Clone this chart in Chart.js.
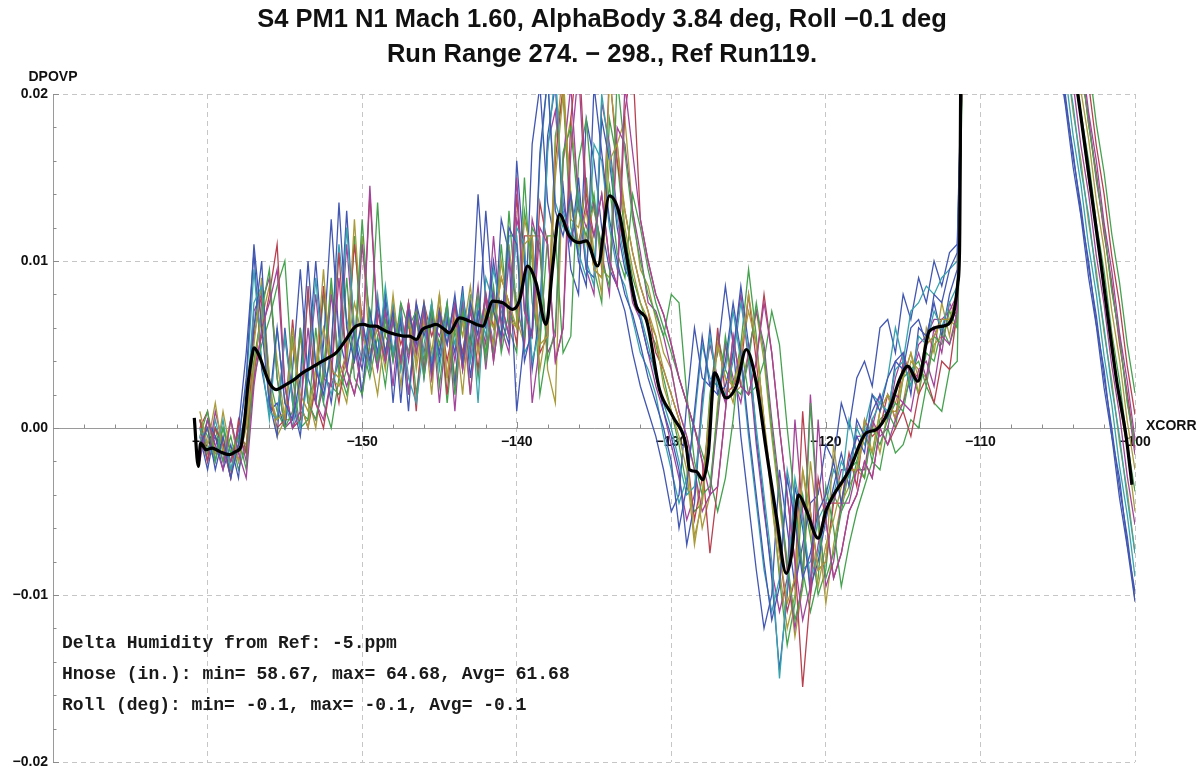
<!DOCTYPE html>
<html>
<head>
<meta charset="utf-8">
<script src="https://cdn.jsdelivr.net/npm/chart.js@4.4.1/dist/chart.umd.min.js"></script>
<style>
  html, body { margin: 0; padding: 0; background: #fff; }
  #wrap { width: 1204px; height: 772px; position: relative; }
</style>
</head>
<body>
<div id="wrap"><canvas id="chart"></canvas></div>
<script>
// DPOVP values are written in units of 1e-4
const xcorr = [-160.5,-160,-159.5,-159,-158.5,-158,-157.5,-157,-156.5,-156,
  -155.5,-155,-154.5,-154,-153.5,-153,-152.5,-152,-151.5,-151,
  -150.5,-150,-149.5,-149,-148.5,-148,-147.5,-147,-146.5,-146,
  -145.5,-145,-144.5,-144,-143.5,-143,-142.5,-142,-141.5,-141,
  -140.5,-140,-139.5,-139,-138.5,-138,-137.5,-137,-136.5,-136,
  -135.5,-135,-134.5,-134,-133.5,-133,-132.5,-132,-131.5,-131,
  -130.5,-130,-129.5,-129,-128.5,-128,-127.5,-127,-126.5,-126,
  -125.5,-125,-124.5,-124,-123.5,-123,-122.5,-122,-121.5,-121,
  -120.5,-120,-119.5,-119,-118.5,-118,-117.5,-117,-116.5,-116,
  -115.5,-115,-114.5,-114,-113.5,-113,-112.5,-112,-111.5,-111,
  -105,-104.5,-104,-103.5,-103,-102.5,-102,-101.5,-101,-100.5,-100];

const run01 = [-10,0,-25,-5,-30,-10,30,110,60,15, 60,15,5,30,100,35,20,45,135,60,
  40,65,40,75,45,70,15,70,50,75, 35,70,50,80,40,75,55,130,70,55,
  120,110,40,60,165,210,130,115,140,100, 85,205,165,125,100,80,68,50,30,15,
  0,-20,-60,-35,10,55,25,20,40,75, 45,0,-40,-80,-115,-95,-30,-55,-90,-75,
  -50,-40,-20,-45,-20,-5,-15,20,10,30, 40,35,60,65,50,80,75,95,105,300,
  230,195,165,128,100,62,35,-5,-30,-70,-98];
const run02 = [-20,5,-10,-25,5,-15,-30,25,60,75, 95,25,0,10,60,15,5,30,90,35,
  20,45,145,60,40,65,40,75,45,70, 30,70,50,75,35,70,50,80,40,75,
  55,150,70,55,120,110,40,60,165,215, 130,115,140,100,85,205,165,125,100,80,
  68,50,30,15,0,-20,-40,-35,10,55, 25,20,40,75,45,0,-40,-80,-115,-95,
  5,-55,-90,-75,-50,-40,-20,-30,0,-10, 5,15,10,35,40,25,55,50,70,300,
  323,290,255,226,189,160,123,94,57,28,-7];
const run03 = [10,-10,15,-15,5,-20,0,35,70,20, 5,10,50,20,10,35,60,35,30,45,
  75,55,45,60,45,70,25,65,40,75, 45,80,30,65,20,75,45,70,60,90,
  75,60,110,115,50,55,150,200,140,110, 130,95,90,160,170,130,105,85,70,55,
  35,20,5,-15,-65,-45,0,50,30,25, 45,80,50,5,-35,-75,-105,-90,-25,-50,
  -85,-80,-10,-45,-25,-25,-5,-15,10,20, 5,30,45,30,50,55,65,65,80,300,
  283,252,215,186,148,120,82,55,15,-12,-50];
const run04 = [-5,10,-20,0,-15,-5,-25,40,70,95, 30,0,10,60,15,5,30,90,35,20,
  45,125,60,40,65,40,75,60,70,30, 70,50,75,20,70,50,80,40,75,55,
  130,70,55,120,110,40,60,165,180,130, 115,140,100,85,210,165,125,100,80,68,
  55,80,75,20,-20,-40,-35,10,55,25, 20,40,75,45,0,-40,-80,-115,-95,15,
  -55,-90,-75,-50,-40,-20,-30,0,-10,5, 15,10,35,40,25,55,50,70,60,300,
  316,285,248,220,182,150,120,82,55,15,-10];
const run05 = [0,-10,-20,5,-25,-10,10,75,85,10, 5,55,15,0,30,90,35,20,45,120,
  60,40,65,40,85,45,70,30,15,50, 75,35,70,50,80,40,75,55,95,70,
  55,120,110,40,60,165,215,130,115,140, 100,85,200,165,125,100,80,68,50,30,
  15,0,-20,-40,-35,10,55,25,20,40, 75,45,0,-40,-80,-150,-95,-30,-55,-90,
  -75,-50,-40,-20,-30,0,-10,5,15,10, 35,40,25,55,50,70,60,75,85,300,
  257,222,193,155,127,90,60,24,-5,-42,-75];
const run06 = [5,-20,0,-10,-30,5,-15,35,55,80, 110,25,0,5,85,15,0,30,105,35,
  20,45,140,60,40,65,40,75,45,70, 30,70,20,75,35,70,50,80,40,75,
  55,140,70,55,135,110,40,60,185,230, 140,115,140,100,85,190,220,125,100,80,
  68,50,30,15,0,-20,-75,-35,10,55, 25,20,40,80,45,0,-40,-80,-155,-100,
  -30,-55,-90,-75,-50,-40,-20,-30,0,-10, 0,10,-5,20,30,15,40,35,70,300,
  336,303,270,235,206,169,140,103,74,37,8];
const run07 = [-15,5,-5,-25,-10,-30,15,60,100,15, -5,60,15,-5,40,100,40,15,50,130,
  55,35,70,45,80,40,65,10,75,55, 70,40,65,45,85,30,70,60,100,65,
  50,160,100,35,70,175,205,125,110,150, 95,90,185,160,120,95,85,65,45,35,
  10,-5,-25,-70,-45,15,60,20,25,45, 85,50,-5,-45,-90,-145,-100,-35,-60,-95,
  -80,-55,-35,-15,-35,5,-5,10,20,5, 40,45,20,60,55,75,55,80,95,300,
  228,199,162,133,96,67,30,0,-36,-65,-103];
const run08 = [0,-20,10,-10,-20,0,-20,30,75,90, 30,0,5,60,15,5,25,80,40,25,
  40,110,65,35,70,45,70,40,75,35, 65,55,70,10,75,45,85,35,80,50,
  100,75,50,125,105,45,55,160,205,135, 120,135,105,80,180,170,130,105,75,70,
  55,35,10,-5,-25,-50,-40,5,50,30, 15,45,70,50,5,-35,-85,-120,-90,20,
  -50,-95,-80,-45,-45,-25,-25,5,-5,0, 20,15,30,45,30,60,45,75,65,300,
  318,280,252,215,186,148,120,83,54,17,-16];
const run09 = [-10,5,-15,-5,-25,-15,5,50,90,30, -5,5,60,15,0,35,95,30,25,40,
  125,55,45,60,35,80,40,75,35,65, 20,80,30,75,55,85,45,70,50,100,
  65,60,125,105,35,65,170,215,125,120, 145,105,80,210,170,120,95,75,65,55,
  25,10,-5,-25,-70,-40,15,50,30,15, 45,70,50,5,-45,-85,-120,-100,-25,-60,
  -95,-70,-55,-35,-25,-25,5,-15,10,20, 15,30,45,20,60,45,75,55,85,300,
  255,226,189,160,123,94,57,28,-9,-38,-75];
const run10 = [5,-15,0,-20,-5,-25,-10,30,50,65, 85,100,30,0,5,60,15,0,30,90,
  30,20,50,135,55,45,60,45,70,40, 75,25,65,55,70,40,65,45,85,45,
  70,60,150,75,50,115,115,45,55,160, 185,130,110,145,105,90,140,120,95,75,
  60,45,30,15,0,-15,-30,-50,-30,5, 50,20,25,40,70,50,0,-45,-85,-110,
  -90,-35,-60,-95,-70,-50,-35,-20,-25,0, -15,-10,5,0,25,15,10,35,40,300,
  349,314,285,248,219,182,153,116,87,50,21];
const run11 = [-5,-20,5,-15,-25,-5,25,95,40,5, 60,15,0,25,80,40,15,50,110,65,
  45,60,35,80,40,75,35,65,45,70, 40,65,55,75,35,80,15,90,75,50,
  115,115,45,55,160,210,135,120,135,105, 90,170,160,120,95,85,65,45,35,20,
  -5,-25,-45,-30,5,50,30,25,35,70, 40,-5,-45,-85,-110,-90,-25,-50,-85,-80,
  -55,-45,-25,-35,5,-15,0,20,15,30, 60,40,70,75,85,80,90,95,100,300,
  243,212,175,146,109,80,43,14,-23,-52,-89];
const run12 = [0,10,-15,-10,-20,-5,-15,55,80,20, 0,5,65,15,0,25,85,40,15,50,
  110,65,35,70,45,70,50,65,10,75, 55,70,40,65,45,75,35,80,60,90,
  75,50,115,115,45,55,160,205,135,110, 135,95,90,215,160,130,105,85,70,45,
  35,20,5,-15,-55,-30,5,60,20,25, 35,80,40,-5,-35,-75,-110,-90,10,-50,
  -85,-80,-45,-45,-15,-35,5,-5,0,20, 5,40,35,30,50,55,65,65,70,300,
  314,285,248,219,182,153,116,87,50,21,-12];
const run13 = [-5,-25,0,-10,-30,0,45,105,35,10, 15,0,35,95,30,15,50,125,55,35,
  60,20,70,40,75,15,65,45,70,30, 65,45,75,25,80,50,140,75,50,125,
  105,10,55,170,205,135,110,145,95,80, 185,160,120,95,85,70,45,25,10,-5,
  -25,-50,-40,15,60,30,25,45,85,50, -5,-45,-85,-120,-100,-25,-60,-95,-70,-45,
  -40,-10,-20,15,0,30,40,25,60,65, 45,80,65,90,75,100,85,105,110,300,
  224,193,156,127,90,61,24,-5,-42,-71,-104];
const run14 = [5,-15,-5,-20,5,-20,5,70,80,15, 5,55,20,0,35,80,30,25,40,110,
  50,20,60,35,70,25,75,20,65,45, 70,15,65,40,75,20,70,50,115,60,
  45,125,105,15,50,170,190,135,110,135, 95,80,195,170,130,105,75,65,45,25,
  10,-10,-30,-55,-40,20,50,30,15,45, 80,40,-10,-50,-85,-110,-90,5,-50,-100,
  -70,-45,-45,-25,-25,-5,-5,0,20,5, 30,45,30,50,55,65,65,70,80,300,
  270,235,206,169,140,103,74,37,8,-29,-58];
const run15 = [-10,0,-20,10,-15,-5,-10,40,65,85, 40,5,5,55,20,0,35,85,30,15,
  50,115,45,20,60,45,70,20,65,35, 75,45,70,30,65,20,75,45,70,50,
  110,65,50,115,115,35,15,160,185,140, 110,135,95,90,170,185,130,95,85,65,
  45,35,10,-5,-25,-60,-40,15,50,20, 25,45,70,40,-5,-45,-85,-125,-95,-20,
  -60,-105,-70,-45,-35,-25,-30,5,-15,10, 10,15,40,35,30,50,55,65,60,300,
  303,268,239,202,173,136,107,70,41,4,-25];
const run16 = [5,-5,-15,0,-20,-10,0,60,85,30, 10,0,55,10,5,25,80,25,20,35,
  115,50,30,55,25,65,35,70,20,60, 40,70,15,60,45,75,30,70,45,110,
  60,45,130,100,20,50,175,200,120,105, 150,95,75,185,160,115,90,75,60,50,
  30,10,-10,-35,-50,-45,20,55,35,25, 50,95,55,0,-40,-90,-130,-105,-40,-65,
  -100,-85,-40,-50,-25,-20,0,-20,5,10, 0,30,35,20,45,40,60,50,65,300,
  290,255,226,189,160,123,94,57,28,-9,-38];

// reference run average (black curve)
const meanX = [-160.86,-160.6,-160.45,-160.1,-159.7,-159.24,-158.6,-158.16,-157.84,-157.6,
  -157.4,-157.15,-156.98,-156.65,-156.3,-156.0,-155.57,-154.93,-154.4,-153.85,
  -153.3,-152.77,-152.2,-151.69,-151.04,-150.4,-149.9,-149.5,-149.1,-148.67,
  -148.2,-147.8,-147.3,-146.95,-146.5,-146.1,-145.6,-145.2,-144.8,-144.36,
  -143.7,-143.06,-142.6,-142.2,-141.55,-140.9,-140.26,-139.83,-139.3,-138.75,
  -138.1,-137.67,-137.24,-136.6,-135.96,-135.5,-134.76,-134.0,-133.35,-132.92,
  -132.27,-131.62,-130.76,-129.9,-129.03,-128.82,-128.39,-127.96,-127.6,-127.2,
  -126.45,-125.8,-125.15,-124.5,-123.86,-123.2,-122.56,-122.24,-121.77,-121.27,
  -120.5,-119.97,-119.55,-118.47,-117.4,-116.74,-115.9,-115.23,-114.7,-114.05,
  -113.3,-112.43,-111.78,-111.46,-111.35,-111.2,-104.5,-103.7,-102.27,-101.2,
  -100.56,-100.2];
const meanY = [6,-23,-9,-13,-12,-14,-16,-14,-11,5,
  25,42,48,43,34,27,23,26,29,33,
  36,39,42,45,53,61,62,61,61,59,
  57,56,55,55,53,59,61,62,60,57,
  66,64,62,61,76,75,71,76,97,87,
  62,97,128,115,111,112,97,139,128,105,
  73,65,23,7,-11,-25,-26,-31,-15,33,
  18,25,47,27,-13,-53,-87,-77,-40,-49,
  -66,-49,-41,-25,-3,-1,11,29,37,28,
  58,61,67,87,107,300,253,200,103,29,
  -6,-34];

const xTicks = [-160, -150, -140, -130, -120, -110, -100];
const yTicks = [-0.02, -0.01, 0, 0.01, 0.02];
const titleLines = ['S4 PM1 N1 Mach 1.60, AlphaBody 3.84 deg, Roll \u22120.1 deg',
                    'Run Range 274. \u2212 298., Ref Run119.'];
const notes = ['Delta Humidity from Ref: -5.ppm',
               'Hnose (in.): min= 58.67, max= 64.68, Avg= 61.68',
               'Roll (deg): min= -0.1, max= -0.1, Avg= -0.1'];

const runs = [run01, run02, run03, run04, run05, run06, run07, run08,
              run09, run10, run11, run12, run13, run14, run15, run16];
const runColors = ['#4257b2', '#a3449a', '#a99a3a', '#44a24e', '#37a3ad', '#b8404f'];

const sans = '"Liberation Sans", Arial, sans-serif';

const datasets = runs.map((r, i) => ({
  data: xcorr.map((x, j) => ({ x: x, y: r[j] / 1e4 })),
  borderColor: runColors[i % runColors.length],
  borderWidth: 1.3,
  pointRadius: 0,
  tension: 0,
  order: 1
}));
datasets.push({
  data: meanX.map((x, i) => ({ x: x, y: meanY[i] / 1e4 })),
  borderColor: '#000',
  borderWidth: 3.2,
  pointRadius: 0,
  cubicInterpolationMode: 'monotone',
  order: 0
});

// title, axis labels, minor ticks and the note block
const extras = {
  id: 'extras',
  beforeDatasetsDraw(chart) {
    const { ctx, chartArea, scales: { x, y } } = chart;
    const y0 = y.getPixelForValue(0);
    ctx.save();
    ctx.strokeStyle = '#8c8c8c';
    ctx.lineWidth = 1;
    ctx.beginPath();
    for (let k = -10; k <= 10; k++) {
      const py = Math.round(y.getPixelForValue(k * 0.002)) + 0.5;
      const len = k % 5 === 0 ? 6 : 3.5;
      ctx.moveTo(chartArea.left, py);
      ctx.lineTo(chartArea.left + len, py);
    }
    for (let v = -168; v <= -100; v += 2) {
      const px = Math.round(x.getPixelForValue(v)) + 0.5;
      const len = v % 10 === 0 ? 6 : 3.5;
      ctx.moveTo(px, y0);
      ctx.lineTo(px, y0 - len);
    }
    ctx.stroke();
    ctx.restore();
  },
  afterDraw(chart) {
    const { ctx, chartArea, scales: { y } } = chart;
    ctx.save();
    ctx.fillStyle = '#111';
    ctx.textBaseline = 'middle';
    ctx.textAlign = 'center';
    ctx.font = 'bold 25.5px ' + sans;
    titleLines.forEach((t, i) => ctx.fillText(t, chart.width / 2, 20 + i * 35));
    ctx.font = 'bold 14px ' + sans;
    ctx.fillText('DPOVP', chartArea.left, chartArea.top - 17);
    ctx.textAlign = 'left';
    ctx.fillText('XCORR', chartArea.right + 11, y.getPixelForValue(0) - 2);
    ctx.font = 'bold 18px "Liberation Mono", "Courier New", monospace';
    ctx.fillStyle = '#1a1a1a';
    notes.forEach((t, i) => ctx.fillText(t, chartArea.left + 9, chartArea.bottom - 119 + i * 31));
    ctx.restore();
  }
};

const grid = { color: '#c6c6c6', lineWidth: 1, drawTicks: false };
const border = { display: true, color: '#9a9a9a', width: 1, dash: [5, 4] };
const tickFont = { family: sans, size: 14, weight: 'bold' };

new Chart(document.getElementById('chart'), {
  type: 'line',
  data: { datasets: datasets },
  options: {
    responsive: true,
    maintainAspectRatio: false,
    animation: false,
    events: [],
    layout: { padding: { left: 0, right: 69, top: 94, bottom: 10 } },
    plugins: {
      legend: { display: false },
      tooltip: { enabled: false },
      title: { display: false }
    },
    scales: {
      x: {
        type: 'linear',
        min: -170,
        max: -100,
        position: { y: 0 },
        afterBuildTicks: s => { s.ticks = xTicks.map(v => ({ value: v })); },
        grid: grid,
        border: border,
        ticks: {
          color: '#111', font: tickFont, padding: 6, maxRotation: 0, autoSkip: false,
          callback: v => '\u2212' + Math.abs(v)
        }
      },
      y: {
        type: 'linear',
        min: -0.02,
        max: 0.02,
        position: 'left',
        afterBuildTicks: s => { s.ticks = yTicks.map(v => ({ value: v })); },
        afterFit: s => { s.width = 53; s.paddingTop = 0; s.paddingBottom = 0; },
        grid: grid,
        border: border,
        ticks: {
          color: '#111', font: tickFont, padding: 5,
          callback: v => v === 0 ? '0.00' : (v < 0 ? '\u2212' : '') + Math.abs(v).toFixed(2)
        }
      }
    }
  },
  plugins: [extras]
});
</script>
</body>
</html>
